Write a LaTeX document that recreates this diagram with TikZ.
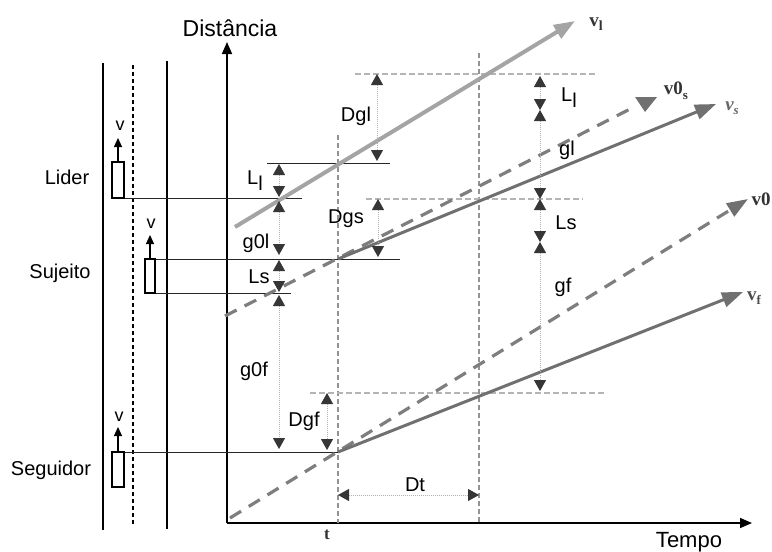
\documentclass[tikz,border=0pt]{standalone}
\usepackage{fontspec}
\setmainfont{Liberation Sans}
\newfontfamily\serifbf{Liberation Serif}
\usetikzlibrary{arrows.meta}
\definecolor{lidgray}{HTML}{A4A4A4}
\definecolor{trgray}{HTML}{707070}
\definecolor{refgray}{HTML}{B4B4B4}
\definecolor{tipgray}{HTML}{363636}
\begin{document}
\begin{tikzpicture}[x=1pt,y=-1pt,
  lbl/.style={font=\fontsize{20}{22}\selectfont, inner sep=0pt},
  axlbl/.style={font=\fontsize{23}{25}\selectfont, inner sep=0pt},
  vlab/.style={font=\serifbf\bfseries\fontsize{19}{21}\selectfont, text=black!80, inner sep=0pt},
  axisline/.style={line width=1.6pt, -{Triangle[length=12pt,width=10pt]}},
  wall/.style={line width=1.5pt},
  wallds/.style={line width=1.3pt, dash pattern=on 4pt off 3pt},
  tline/.style={line width=1.2pt, draw=gray!85, dash pattern=on 5pt off 3pt},
  refline/.style={line width=2.6pt, draw=refgray, dash pattern=on 6pt off 3pt},
  thinline/.style={line width=1pt, draw=black!85},
  carbox/.style={draw, line width=1.2pt, fill=white, inner sep=0pt},
  varrow/.style={line width=1.2pt, -{Triangle[length=9pt,width=8pt]}},
  dimarr/.style={line width=1pt, draw=gray!60, densely dotted,
     {Triangle[length=11pt,width=12pt,color=tipgray]}-{Triangle[length=11pt,width=12pt,color=tipgray]}},
  trlid/.style={line width=4pt, draw=lidgray, -{Triangle[length=21pt,width=15pt,color=lidgray]}},
  trsol/.style={line width=3pt, draw=trgray, -{Triangle[length=21pt,width=15pt,color=trgray]}},
  trdash/.style={line width=3.2pt, draw=trgray!90, dash pattern=on 13pt off 9pt},
  trdasharr/.style={trdash, -{Triangle[length=21pt,width=15pt,color=trgray]}}
]
\useasboundingbox (0,0) rectangle (772,552);

% ---------- axes ----------
\coordinate (O) at (227,523);
\coordinate (Ytop) at (227,42);
\coordinate (Xend) at (752,523);
\draw[axisline] (O) -- (Ytop);
\draw[axisline] (O) -- (Xend);
\node[axlbl] (dist) at (230,28) {Distância};
\node[axlbl, font=\fontsize{22}{24}\selectfont] (tempo) at (689,542) {Tempo};

% ---------- road lines ----------
\coordinate (w1a) at (103,63);  \coordinate (w1b) at (103,530);
\coordinate (w2a) at (133,65);  \coordinate (w2b) at (133,525);
\coordinate (w3a) at (167,61);  \coordinate (w3b) at (167,529);
\draw[wall] (w1a) -- (w1b);
\draw[wallds] (w2a) -- (w2b);
\draw[wall] (w3a) -- (w3b);

% ---------- time lines ----------
\coordinate (t1a) at (338,135); \coordinate (t1b) at (338,523);
\coordinate (t2a) at (479,53);  \coordinate (t2b) at (479,523);
\draw[tline] (t1a) -- (t1b);
\draw[tline] (t2a) -- (t2b);
\node[font=\serifbf\bfseries\fontsize{17}{19}\selectfont, text=black!80, inner sep=0pt] (tlab) at (327,535) {t};

% ---------- reference dashed lines ----------
\coordinate (r1a) at (355,74);  \coordinate (r1b) at (598,74);
\coordinate (r2a) at (366,199); \coordinate (r2b) at (583,199);
\coordinate (r3a) at (310,393); \coordinate (r3b) at (607,393);
\draw[refline] (r1a) -- (r1b);
\draw[refline] (r2a) -- (r2b);
\draw[refline] (r3a) -- (r3b);

% ---------- thin horizontal lines ----------
\coordinate (h1a) at (267,163); \coordinate (h1b) at (390,163);
\coordinate (h2a) at (111,198); \coordinate (h2b) at (302,198);
\coordinate (h3a) at (145,259); \coordinate (h3b) at (400,259);
\coordinate (h4a) at (145,293); \coordinate (h4b) at (291,293);
\coordinate (h5a) at (112,452); \coordinate (h5b) at (338,452);
\draw[thinline] (h1a) -- (h1b);
\draw[thinline] (h2a) -- (h2b);
\draw[thinline] (h3a) -- (h3b);
\draw[thinline] (h4a) -- (h4b);
\draw[thinline] (h5a) -- (h5b);

% ---------- vehicles ----------
\node[lbl] (lider) at (67,177) {Lider};
\node[lbl] (sujeito) at (60,273) {Sujeito};
\node[lbl] (seguidor) at (51,470) {Seguidor};

\node[carbox, minimum width=12pt, minimum height=36pt] (boxL) at (118,180) {};
\node[carbox, minimum width=10pt, minimum height=34pt] (boxS) at (150,276) {};
\node[carbox, minimum width=12pt, minimum height=35pt] (boxF) at (118,469.5) {};
\coordinate (vLt) at (118,138);
\coordinate (vSt) at (150,235);
\coordinate (vFt) at (118,427);
\draw[varrow] (boxL.north) -- (vLt);
\draw[varrow] (boxS.north) -- (vSt);
\draw[varrow] (boxF.north) -- (vFt);
\node[lbl, font=\fontsize{18}{20}\selectfont] (vL) at (120,126) {v};
\node[lbl, font=\fontsize{18}{20}\selectfont] (vS) at (151,224) {v};
\node[lbl, font=\fontsize{18}{20}\selectfont] (vF) at (119,417) {v};

% ---------- trajectories ----------
\coordinate (lidA) at (235,227);  \coordinate (lidB) at (575,21);
\coordinate (v0sA) at (225,316);  \coordinate (v0sB) at (634,107);
\coordinate (vsA) at (338,259);   \coordinate (vsB) at (716,104);
\coordinate (v0A) at (230,518);   \coordinate (v0B) at (748,199);
\coordinate (vfA) at (338,452);   \coordinate (vfB) at (743,292);
\draw[trdash] (v0sA) -- (v0sB);
\fill[trgray] (635,97) -- (657,97) -- (645,112) -- cycle;
\draw[trdasharr] (v0A) -- (v0B);
\draw[trsol] (vsA) -- (vsB);
\draw[trsol] (vfA) -- (vfB);
\draw[trlid] (lidA) -- (lidB);

\node[vlab] (lvl) at (596,24) {v\raisebox{-4pt}{\fontsize{14}{14}\selectfont l}};
\node[vlab] (lv0s) at (676,91) {v0\raisebox{-5pt}{\fontsize{13}{13}\selectfont s}};
\node[vlab, font=\serifbf\bfseries\itshape\fontsize{19}{21}\selectfont, text=black!60] (lvs) at (732,108) {v\raisebox{-4pt}{\fontsize{13}{13}\selectfont s}};
\node[vlab] (lv0) at (761,199) {v0};
\node[vlab, text=black!70] (lvf) at (754,298) {v\raisebox{-4pt}{\fontsize{13}{13}\selectfont f}};

% ---------- dimension arrows (left column) ----------
\coordinate (a1) at (279,163); \coordinate (a2) at (279,198);
\coordinate (a3) at (279,259); \coordinate (a4) at (279,293);
\coordinate (a5) at (279,452);
\draw[dimarr, shorten >=1pt, shorten <=1pt] (a1) -- (a2);
\draw[dimarr, shorten >=4pt, shorten <=3pt] (a2) -- (a3);
\draw[dimarr, shorten >=1pt, shorten <=1pt] (a3) -- (a4);
\draw[dimarr, shorten >=3pt, shorten <=2pt] (a4) -- (a5);
\node[lbl] (lLl) at (255,181) {L\raisebox{-6pt}{l}};
\node[lbl] (lg0l) at (256,243) {g0l};
\node[lbl] (lLs) at (259,277) {Ls};
\node[lbl] (lg0f) at (254,371) {g0f};

% ---------- Dgl, Dgs, Dgf ----------
\coordinate (d1a) at (377,74);  \coordinate (d1b) at (377,163);
\coordinate (d2a) at (378,199); \coordinate (d2b) at (378,257);
\coordinate (d3a) at (327,393); \coordinate (d3b) at (327,452);
\draw[dimarr, shorten >=2pt] (d1a) -- (d1b);
\draw[dimarr] (d2a) -- (d2b);
\draw[dimarr, shorten >=2pt] (d3a) -- (d3b);
\node[lbl] (lDgl) at (356,116) {Dgl};
\node[lbl] (lDgs) at (346,219) {Dgs};
\node[lbl] (lDgf) at (304,421) {Dgf};

% ---------- right column ----------
\coordinate (b1) at (540,74);  \coordinate (b2) at (540,110);
\coordinate (b3) at (540,199); \coordinate (b4) at (540,242);
\coordinate (b5) at (540,393);
\draw[dimarr, shorten <=2pt] (b1) -- (b2);
\draw[dimarr] (b2) -- (b3);
\draw[dimarr] (b3) -- (b4);
\draw[dimarr, shorten >=2pt] (b4) -- (b5);
\node[lbl] (rLl) at (569,98) {L\raisebox{-6pt}{l}};
\node[lbl] (rgl) at (567,150) {gl};
\node[lbl] (rLs) at (566,223) {Ls};
\node[lbl] (rgf) at (563,287) {gf};

% ---------- Dt ----------
\coordinate (dta) at (338,495); \coordinate (dtb) at (479,495);
\draw[dimarr] (dta) -- (dtb);
\node[lbl] (lDt) at (415,485) {Dt};
\end{tikzpicture}
\end{document}
